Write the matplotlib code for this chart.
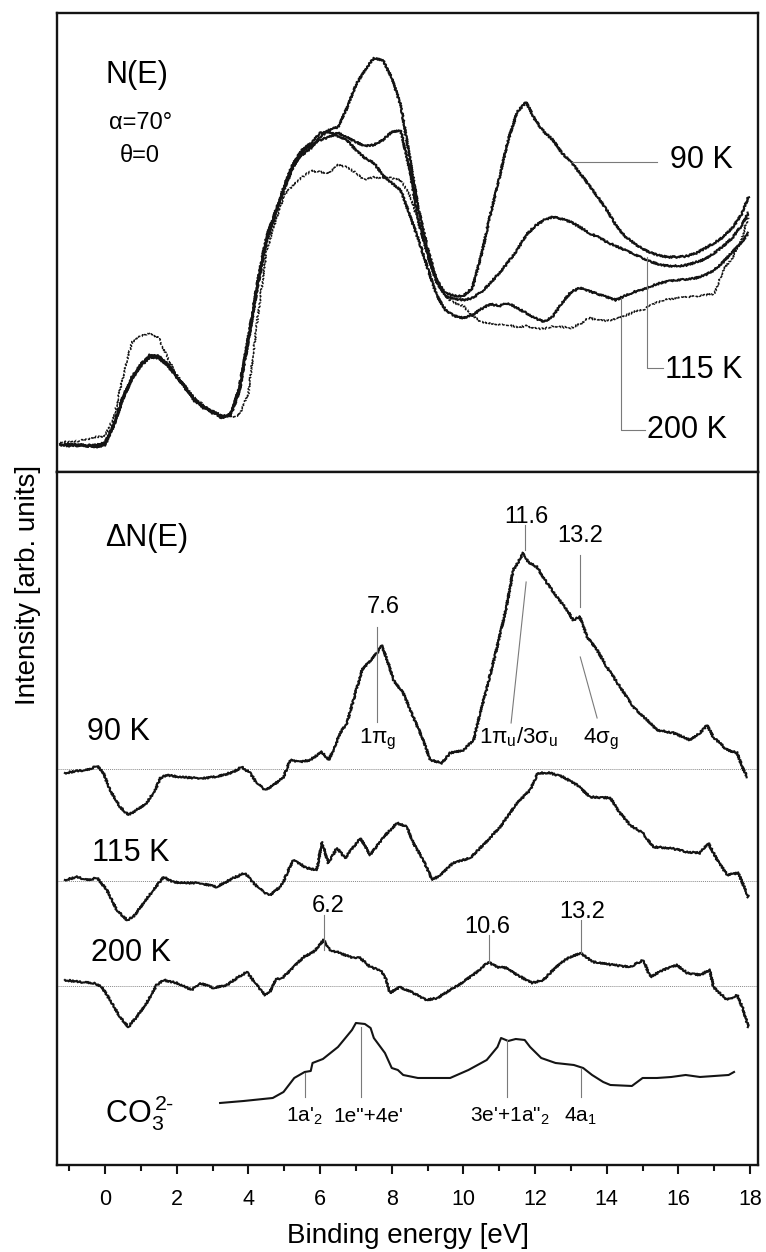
import numpy as np
import matplotlib
matplotlib.use('Agg')
import matplotlib.pyplot as plt

plt.rcParams['font.family'] = ['Liberation Sans', 'DejaVu Sans']
plt.rcParams['mathtext.fontset'] = 'custom'
plt.rcParams['mathtext.rm'] = 'Liberation Sans'
plt.rcParams['mathtext.it'] = 'Liberation Sans:italic'
plt.rcParams['mathtext.default'] = 'regular'

# ---- upper panel: N(E), common energy grid [eV] ----
energy = np.append(np.arange(-1.25, 17.8, 0.25), 17.95)

n_90K = [28, 27, 28, 26,  27, 29, 49, 75,  95, 108, 116, 115,  107, 95, 84, 72,
         65, 60, 55, 57,  85, 135, 189, 235,  260, 285, 308, 317,  324, 335, 342, 345,
         364, 387, 402, 414,  412, 394, 367, 315,  262, 224, 192, 179,  176, 176, 184, 217,
         257, 294, 332, 360,  370, 352, 340, 332,  319, 310, 299, 287,  275, 262, 247, 236,
         229, 223, 219, 216,  215, 215, 216, 219,  224, 229, 235, 244,  257, 275]
n_115K = [27, 28, 26, 27,  26, 28, 48, 74,  94, 107, 117, 116,  108, 96, 83, 73,
          64, 61, 54, 58,  83, 133, 186, 232,  258, 283, 305, 320,  327, 332, 335, 339,
          335, 330, 326, 327,  332, 340, 342, 302,  250, 217, 190, 176,  173, 172, 174, 180,
          189, 199, 210, 222,  237, 246, 252, 255,  253, 250, 245, 239,  235, 230, 226, 222,
          218, 214, 210, 207,  206, 206, 207, 210,  213, 219, 226, 234,  246, 259]
n_200K = [28, 26, 27, 26,  25, 27, 47, 73,  93, 106, 115, 114,  106, 95, 85, 71,
          66, 59, 56, 56,  81, 131, 184, 230,  257, 286, 309, 322,  329, 339, 340, 336,
          332, 322, 314, 309,  297, 289, 282, 257,  232, 204, 177, 162,  156, 154, 157, 163,
          168, 166, 169, 164,  159, 154, 150, 156,  169, 180, 184, 181,  178, 175, 172, 176,
          180, 182, 186, 189,  191, 192, 193, 194,  197, 202, 210, 220,  229, 239]
n_ref = [30, 30, 31, 33,  35, 36, 55, 95,  130, 136, 139, 134,  114, 97, 85, 74,
         67, 61, 57, 55,  57, 79, 152, 220,  250, 277, 287, 295,  301, 300, 299, 307,
         305, 299, 292, 295,  294, 294, 292, 277,  250, 220, 192, 175,  169, 166, 156, 150,
         149, 147, 147, 145,  146, 144, 143, 146,  145, 144, 148, 154,  152, 151, 153, 156,
         160, 162, 167, 171,  173, 174, 175, 176,  177, 178, 202, 214,  232, 255]

# ---- lower panel: difference spectra dN(E) ----
e_d90 = [-1.12, -0.78, -0.5, -0.22, -0.06, 0.14, 0.42, 0.65, 0.88, 1.16, 1.4, 1.54, 1.72,
         2.09, 2.46, 2.84, 3.2, 3.58, 3.81, 4.05, 4.23, 4.47, 4.7, 4.98, 5.17, 5.44, 5.72,
         6.05, 6.24, 6.37, 6.56, 6.75, 6.93, 7.17, 7.34, 7.59, 7.72, 7.9, 8.05, 8.32, 8.6,
         8.88, 9.07, 9.4, 9.63, 10.0, 10.28, 10.47, 10.66, 10.94, 11.2, 11.39, 11.53, 11.67,
         11.81, 12.05, 12.33, 12.61, 12.89, 13.06, 13.25, 13.45, 13.73, 14.0, 14.37, 14.74,
         15.12, 15.4, 15.86, 16.33, 16.6, 16.8, 16.97, 17.36, 17.64, 17.78, 17.92]
d_90K = [-4, -2, -1, 3, -3, -21, -38, -46, -41, -34, -21, -9, -6,
         -8, -9, -9, -7, -3, 2, -4, -14, -21, -16, -8, 9, 7, 9,
         17, 9, 19, 36, 46, 69, 99, 106, 116, 124, 106, 89, 76, 52,
         29, 9, 6, 16, 19, 29, 56, 82, 122, 162, 199, 207, 216,
         207, 202, 186, 172, 159, 149, 152, 132, 119, 102, 82, 62,
         49, 39, 36, 29, 36, 44, 32, 19, 16, 2, -8]

e_d115 = [-1.12, -0.78, -0.5, -0.22, 0.05, 0.33, 0.61, 0.79, 1.07, 1.35, 1.63, 1.91, 2.28,
          2.65, 3.12, 3.58, 3.91, 4.14, 4.42, 4.6, 4.88, 4.97, 5.25, 5.63, 5.91, 6.05, 6.23,
          6.47, 6.7, 7.12, 7.4, 7.77, 8.15, 8.43, 8.6, 8.88, 9.13, 9.35, 9.71, 10.19, 10.55,
          11.02, 11.5, 11.86, 12.08, 12.42, 12.78, 13.17, 13.54, 14.1, 14.37, 14.65, 15.0,
          15.3, 15.77, 16.24, 16.6, 16.83, 17.08, 17.36, 17.67, 17.95]
d_115K = [1, 4, 1, 3, -9, -29, -39, -36, -22, -9, 4, -1, -2,
          -2, -6, 3, 8, -2, -11, -14, -6, -1, 21, 13, 11, 39, 18,
          33, 23, 43, 26, 44, 58, 54, 38, 21, 1, 6, 18, 23, 36,
          54, 78, 91, 108, 108, 104, 96, 84, 83, 68, 56, 48,
          34, 33, 29, 28, 38, 21, 6, 8, -16]

e_d200 = [-1.12, -0.7, -0.33, -0.09, 0.14, 0.42, 0.65, 0.88, 1.16, 1.44, 1.63, 2.0, 2.42,
          2.65, 3.03, 3.4, 3.68, 3.96, 4.23, 4.47, 4.6, 4.75, 4.98, 5.26, 5.54, 5.82, 6.1,
          6.28, 6.56, 6.84, 7.12, 7.4, 7.68, 7.85, 7.95, 8.23, 8.6, 8.98, 9.27, 9.63, 9.99,
          10.38, 10.69, 10.94, 11.22, 11.5, 11.92, 12.23, 12.42, 12.7, 12.98, 13.26, 13.62,
          14.18, 14.65, 15.02, 15.21, 15.57, 15.96, 16.24, 16.6, 16.88, 16.97, 17.36, 17.64,
          17.81, 17.95]
d_200K = [6, 4, 3, -1, -14, -31, -41, -31, -17, 1, 6, 3, -4,
          3, -2, 1, 8, 14, 1, -9, -6, 6, 9, 19, 29, 34, 46,
          36, 33, 29, 28, 19, 16, 6, -7, -1, -7, -14, -12, -4, 4,
          14, 24, 19, 18, 11, 3, 6, 13, 23, 29, 33, 24,
          21, 19, 26, 9, 16, 21, 13, 11, 16, -1, -14, -9,
          -24, -41]

# CO3(2-) reference spectrum
e_co3 = [3.21, 3.87, 4.68, 4.98, 5.28, 5.57, 5.74, 5.79, 6.08, 6.5, 6.89, 7.0, 7.25, 7.41,
         7.5, 7.81, 8.0, 8.17, 8.32, 8.73, 8.93, 9.63, 10.14, 10.65, 10.95, 11.05, 11.25,
         11.46, 11.71, 11.86, 12.17, 12.57, 13.08, 13.34, 13.59, 13.9, 14.1, 14.7, 15.0,
         15.4, 15.8, 16.2, 16.6, 17.0, 17.4, 17.55]
i_co3 = [0, 2, 5, 11, 25, 31, 32, 40, 44, 56, 73, 80, 79, 75,
         65, 50, 35, 33, 28, 25, 25, 25, 33, 43, 56, 65, 62,
         64, 63, 56, 45, 40, 38, 35, 28, 21, 18, 17, 25,
         25, 26, 28, 26, 27, 28, 31]

# vertical offsets of the stacked traces
off_90, off_115, off_200, off_co3 = 396, 284, 179, 62

ink = '#141414'
lead = '#7a7a7a'
XL = (-1.34, 18.22)

fig = plt.figure(figsize=(7.66, 12.52), dpi=100)
ax_top = fig.add_axes([0.0744, 0.6230, 0.9152, 0.3666])
ax_bot = fig.add_axes([0.0744, 0.0695, 0.9152, 0.5535])

for ax in (ax_top, ax_bot):
    ax.set_xlim(*XL)
    ax.set_yticks([])
    for s in ax.spines.values():
        s.set_linewidth(1.7)
        s.set_color(ink)

sk = (0.9, 2.5, 2.0)

# upper panel
ax_top.set_ylim(0, 459)
for n in (n_90K, n_115K, n_200K):
    ln, = ax_top.plot(energy, n, color=ink, lw=1.5)
    ln.set_sketch_params(*sk)
ln, = ax_top.plot(energy, n_ref, color=ink, lw=1.1, ls=(0, (2, 1)))
ln.set_sketch_params(*sk)

ax_top.set_xticks(np.arange(0, 19, 2))
ax_top.set_xticks(np.arange(-1, 18.5, 2), minor=True)
ax_top.tick_params(axis='x', which='both', direction='out', bottom=True, top=False,
                   labelbottom=False, width=1.5, color=ink)
ax_top.tick_params(axis='x', which='major', length=6.5)
ax_top.tick_params(axis='x', which='minor', length=4.5)

ax_top.text(0.0, 397, 'N(E)', fontsize=22, ha='left', va='center')
ax_top.text(0.98, 349, 'α=70°', fontsize=17, ha='center', va='center')
ax_top.text(0.98, 316, 'θ=0', fontsize=17, ha='center', va='center')

ax_top.plot([13.03, 15.4], [310, 310], color=lead, lw=0.8)
ax_top.text(15.77, 312, '90 K', fontsize=22, ha='left', va='center')
ax_top.plot([15.13, 15.13, 15.57], [215, 104, 104], color=lead, lw=0.8)
ax_top.text(15.63, 102, '115 K', fontsize=22, ha='left', va='center')
ax_top.plot([14.4, 14.4, 15.07], [174, 42, 42], color=lead, lw=0.8)
ax_top.text(15.13, 42, '200 K', fontsize=22, ha='left', va='center')

# lower panel
ax_bot.set_ylim(0, 693)
for off in (off_90, off_115, off_200):
    ax_bot.axhline(off, color='#8a8a8a', lw=0.7, ls=(0, (1, 1)))
for e, d, off in ((e_d90, d_90K, off_90), (e_d115, d_115K, off_115),
                  (e_d200, d_200K, off_200)):
    ln, = ax_bot.plot(e, np.array(d) + off, color=ink, lw=1.5)
    ln.set_sketch_params(*sk)
ax_bot.plot(e_co3, np.array(i_co3) + off_co3, color=ink, lw=1.5)

ax_bot.set_xticks(np.arange(0, 19, 2))
ax_bot.set_xticks(np.arange(-1, 18.5, 2), minor=True)
ax_bot.tick_params(axis='x', which='both', direction='out', top=False,
                   width=1.5, color=ink, labelsize=15.5, pad=11)
ax_bot.tick_params(axis='x', which='major', length=6.5)
ax_bot.tick_params(axis='x', which='minor', length=4.5)
ax_bot.set_xlabel('Binding energy [eV]', fontsize=20, labelpad=9)

fig.text(0.0366, 0.5327, 'Intensity [arb. units]', rotation=90,
         ha='center', va='center', fontsize=20)

ax_bot.text(0.0, 627, 'ΔN(E)', fontsize=22, ha='left', va='center')
ax_bot.text(-0.5, 433, '90 K', fontsize=22, ha='left', va='center')
ax_bot.text(-0.36, 312, '115 K', fontsize=22, ha='left', va='center')
ax_bot.text(-0.39, 212, '200 K', fontsize=22, ha='left', va='center')
ax_bot.text(0.0, 42, r'CO$_3^{\,2\text{-}}$', fontsize=22, ha='left', va='baseline')

# peak labels, 90 K
ax_bot.plot([7.6, 7.6], [538, 443], color=lead, lw=0.8)
ax_bot.text(7.75, 552, '7.6', fontsize=17, ha='center', va='baseline')
ax_bot.text(7.62, 422, '1π$_g$', fontsize=16, ha='center', va='baseline')
ax_bot.plot([11.72, 11.72], [640, 615], color=lead, lw=0.8)
ax_bot.text(11.75, 642, '11.6', fontsize=17, ha='center', va='baseline')
ax_bot.plot([11.75, 11.33], [583, 442], color=lead, lw=0.8)
ax_bot.text(11.53, 422, '1π$_u$/3σ$_u$', fontsize=16, ha='center', va='baseline')
ax_bot.plot([13.26, 13.26], [610, 558], color=lead, lw=0.8)
ax_bot.text(13.26, 623, '13.2', fontsize=17, ha='center', va='baseline')
ax_bot.plot([13.26, 13.73], [508, 447], color=lead, lw=0.8)
ax_bot.text(13.84, 422, '4σ$_g$', fontsize=16, ha='center', va='baseline')

# peak labels, 200 K
ax_bot.plot([6.12, 6.12], [250, 215], color=lead, lw=0.8)
ax_bot.text(6.22, 253, '6.2', fontsize=17, ha='center', va='baseline')
ax_bot.plot([10.7, 10.7], [230, 203], color=lead, lw=0.8)
ax_bot.text(10.66, 232, '10.6', fontsize=17, ha='center', va='baseline')
ax_bot.plot([13.27, 13.27], [245, 212], color=lead, lw=0.8)
ax_bot.text(13.31, 247, '13.2', fontsize=17, ha='center', va='baseline')

# CO3 orbital labels
for xl, y0, xt, lab in ((5.57, 92, 5.55, "1a'$_2$"),
                        (7.15, 138, 7.34, '1e"+4e\''),
                        (11.22, 125, 11.3, "3e'+1a\"$_2$"),
                        (13.28, 97, 13.26, '4a$_1$')):
    ax_bot.plot([xl, xl], [y0, 68], color=lead, lw=0.8)
    ax_bot.text(xt, 43, lab, fontsize=15, ha='center', va='baseline')

fig.savefig('out.png', dpi=100)
